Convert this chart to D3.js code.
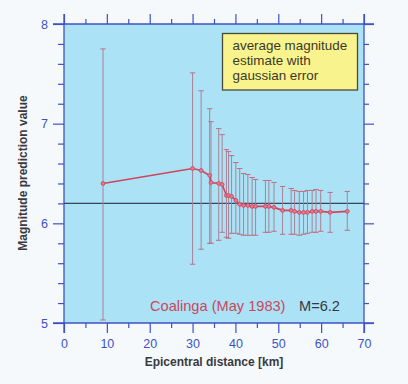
<!DOCTYPE html>
<html><head><meta charset="utf-8">
<script src="https://cdn.jsdelivr.net/npm/d3@7"></script>
<style>
html,body{margin:0;padding:0;background:#f5f9fb;}
svg{display:block;}
text{font-family:"Liberation Sans",Arial,Helvetica,sans-serif;}
</style></head>
<body>
<svg id="chart" width="408" height="384"></svg>
<script>
// Data
const distance = [9.1,30.0,32.0,34.0,34.3,36.1,36.9,37.9,38.4,39.1,40.1,41.0,41.9,42.9,43.9,44.7,47.0,47.8,49.0,51.0,53.0,53.8,54.9,55.9,56.8,57.9,58.8,59.9,62.1,66.1];
const meanMag  = [6.40,6.55,6.53,6.48,6.41,6.40,6.39,6.28,6.28,6.27,6.23,6.19,6.18,6.18,6.17,6.17,6.17,6.17,6.16,6.13,6.13,6.12,6.11,6.11,6.11,6.12,6.12,6.12,6.11,6.12];
const upperMag = [7.75,7.51,7.33,7.15,7.02,6.95,6.89,6.74,6.72,6.68,6.61,6.55,6.50,6.49,6.46,6.44,6.43,6.43,6.41,6.37,6.35,6.33,6.32,6.32,6.33,6.33,6.34,6.33,6.31,6.32];
const lowerMag = [5.03,5.59,5.74,5.80,5.80,5.83,5.91,5.86,5.85,5.90,5.90,5.89,5.88,5.88,5.88,5.88,5.91,5.91,5.92,5.89,5.89,5.89,5.88,5.89,5.90,5.91,5.91,5.92,5.91,5.93];
const trueMagnitude = 6.2;
const xTicks = [0,10,20,30,40,50,60,70];
const yTicks = [5,6,7,8];
const legendLines = ["average magnitude","estimate with","gaussian error"];
const eventLabel = "Coalinga (May 1983)";
const magLabel = "M=6.2";

const svg = d3.select("#chart");
const x = d3.scaleLinear().domain([0,70]).range([64,364]);
const y = d3.scaleLinear().domain([5,8]).range([323,24]);
const axisColor = "#3d52c4";

// plot background
svg.append("rect").attr("x",x(0)).attr("y",y(8)).attr("width",x(70)-x(0)).attr("height",y(5)-y(8)).attr("fill","#ace2f6");

// axes
const xMinor = d3.range(5,70,10);
const yMinor = d3.range(5,8.001,0.2).filter(v=>Math.abs(v-Math.round(v))>0.01);
function styleAxis(g){
  g.selectAll("path").attr("stroke",axisColor).attr("stroke-width",1.3);
  g.selectAll("line").attr("stroke",axisColor).attr("stroke-width",1.2);
}
const gxB = svg.append("g").attr("transform",`translate(0,${y(5)})`)
  .call(d3.axisBottom(x).tickValues(xTicks).tickSize(10).tickSizeOuter(0).tickPadding(6).tickFormat(d3.format("d")));
gxB.selectAll("text").attr("fill",axisColor).attr("font-size",12.5);
styleAxis(gxB);
svg.append("g").attr("transform",`translate(0,${y(5)})`)
  .call(d3.axisBottom(x).tickValues(xMinor).tickSize(5).tickSizeOuter(0).tickFormat(""))
  .call(g=>{g.select("path").remove();styleAxis(g);});
const gxT = svg.append("g").attr("transform",`translate(0,${y(8)})`)
  .call(d3.axisTop(x).tickValues(xTicks).tickSize(10).tickSizeOuter(0).tickFormat(""));
styleAxis(gxT);
svg.append("g").attr("transform",`translate(0,${y(8)})`)
  .call(d3.axisTop(x).tickValues(xMinor).tickSize(5).tickSizeOuter(0).tickFormat(""))
  .call(g=>{g.select("path").remove();styleAxis(g);});
const gyL = svg.append("g").attr("transform",`translate(${x(0)},0)`)
  .call(d3.axisLeft(y).tickValues(yTicks).tickSize(11).tickSizeOuter(0).tickPadding(5).tickFormat(d3.format("d")));
gyL.selectAll("text").attr("fill",axisColor).attr("font-size",12.5);
styleAxis(gyL);
svg.append("g").attr("transform",`translate(${x(0)},0)`)
  .call(d3.axisLeft(y).tickValues(yMinor).tickSize(6).tickSizeOuter(0).tickFormat(""))
  .call(g=>{g.select("path").remove();styleAxis(g);});
const gyR = svg.append("g").attr("transform",`translate(${x(70)},0)`)
  .call(d3.axisRight(y).tickValues(yTicks).tickSize(10).tickSizeOuter(0).tickFormat(""));
styleAxis(gyR);
svg.append("g").attr("transform",`translate(${x(70)},0)`)
  .call(d3.axisRight(y).tickValues(yMinor).tickSize(5).tickSizeOuter(0).tickFormat(""))
  .call(g=>{g.select("path").remove();styleAxis(g);});
svg.selectAll(".domain").remove();
// axis lines extended
svg.append("line").attr("x1",x(0)-11).attr("x2",x(70)+10).attr("y1",y(8)).attr("y2",y(8)).attr("stroke",axisColor).attr("stroke-width",1.3);
svg.append("line").attr("x1",x(0)-11).attr("x2",x(70)+10).attr("y1",y(5)).attr("y2",y(5)).attr("stroke",axisColor).attr("stroke-width",1.3);
svg.append("line").attr("x1",x(0)).attr("x2",x(0)).attr("y1",y(8)-10).attr("y2",y(5)+10).attr("stroke",axisColor).attr("stroke-width",1.3);
svg.append("line").attr("x1",x(70)).attr("x2",x(70)).attr("y1",y(8)-10).attr("y2",y(5)+10).attr("stroke",axisColor).attr("stroke-width",1.3);

// reference line
svg.append("line").attr("x1",x(0)).attr("x2",x(70)).attr("y1",y(trueMagnitude)).attr("y2",y(trueMagnitude))
  .attr("stroke","#34465c").attr("stroke-width",1.3);

const data = distance.map((d,i)=>({d,m:meanMag[i],u:upperMag[i],l:lowerMag[i]}));
// error bars
const eb = svg.append("g");
eb.selectAll("line.v").data(data).join("line").attr("class","v")
  .attr("x1",d=>x(d.d)).attr("x2",d=>x(d.d)).attr("y1",d=>y(d.u)).attr("y2",d=>y(d.l))
  .attr("stroke","#a88296").attr("stroke-width",1);
eb.selectAll("line.cu").data(data).join("line").attr("class","cu")
  .attr("x1",d=>x(d.d)-2.7).attr("x2",d=>x(d.d)+2.7).attr("y1",d=>y(d.u)).attr("y2",d=>y(d.u))
  .attr("stroke","#c0707f").attr("stroke-width",1);
eb.selectAll("line.cl").data(data).join("line").attr("class","cl")
  .attr("x1",d=>x(d.d)-2.7).attr("x2",d=>x(d.d)+2.7).attr("y1",d=>y(d.l)).attr("y2",d=>y(d.l))
  .attr("stroke","#c0707f").attr("stroke-width",1);

// mean line
svg.append("path").datum(data)
  .attr("d",d3.line().x(d=>x(d.d)).y(d=>y(d.m)))
  .attr("fill","none").attr("stroke","#cf4560").attr("stroke-width",1.6);
svg.append("g").selectAll("circle").data(data).join("circle")
  .attr("cx",d=>x(d.d)).attr("cy",d=>y(d.m)).attr("r",1.9)
  .attr("fill","#e27d90").attr("stroke","#cf4560").attr("stroke-width",0.9);

// legend box
svg.append("rect").attr("x",222.5).attr("y",33.5).attr("width",135).attr("height",56.5)
  .attr("fill","#f8f38c").attr("stroke","#4a4a3a").attr("stroke-width",1.3);
svg.append("g").selectAll("text").data(legendLines).join("text")
  .attr("x",232.5).attr("y",(d,i)=>50+i*15).attr("font-size",13.4).attr("fill","#3a3a2a").text(d=>d);

// annotations
svg.append("text").attr("x",150).attr("y",311).attr("font-size",14.6).attr("fill","#c9475e").text(eventLabel);
svg.append("text").attr("x",299).attr("y",311).attr("font-size",14.6).attr("fill","#333844").text(magLabel);

// axis titles
svg.append("text").attr("x",214).attr("y",366).attr("text-anchor","middle").attr("font-size",12)
  .attr("font-weight","bold").attr("fill","#3a3a3e").text("Epicentral distance [km]");
svg.append("text").attr("transform","translate(27,173) rotate(-90)").attr("text-anchor","middle").attr("font-size",12)
  .attr("font-weight","bold").attr("fill","#3a3a3e").text("Magnitude prediction value");
</script>
</body></html>
